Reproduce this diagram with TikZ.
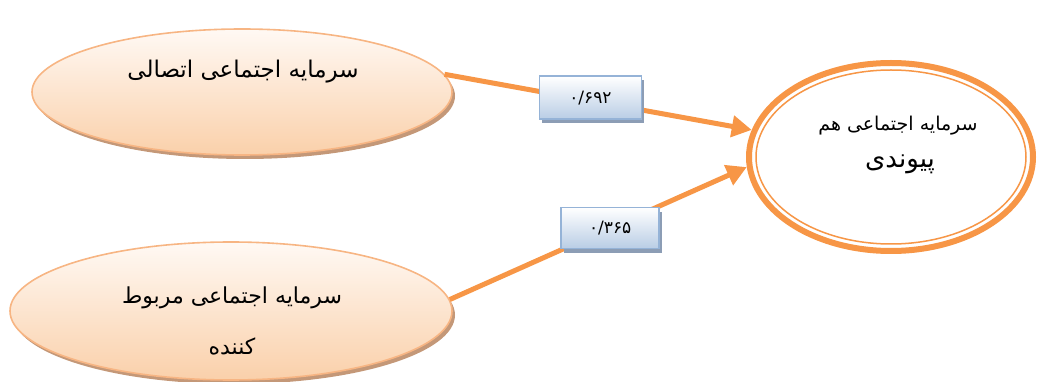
\documentclass[tikz,border=0pt]{standalone}
\usepackage{fontspec}
\newfontfamily\farsi[Script=Arabic]{DejaVu Sans}
\TeXXeTstate=1
\usetikzlibrary{shapes.geometric, shadows, arrows.meta}

\definecolor{pathorange}{HTML}{F79646}
\definecolor{peachline}{HTML}{F7B583}
\definecolor{peachtop}{HTML}{FFF9F4}
\definecolor{peachbot}{HTML}{FAD0AA}
\definecolor{peachshade}{HTML}{C49878}
\definecolor{boxline}{HTML}{95B3D7}
\definecolor{boxbot}{HTML}{B9CDE5}
\definecolor{boxshade}{HTML}{8C9DB5}

\tikzset{
  srcell/.style={ellipse, draw=peachline, line width=1.6pt,
    top color=peachtop, bottom color=peachbot,
    drop shadow={shadow xshift=3pt, shadow yshift=-4pt, fill=peachshade, opacity=1}},
  tgtell/.style={ellipse, draw=pathorange, line width=6pt, fill=white},
  valbox/.style={rectangle, draw=boxline, line width=1.8pt,
    top color=white, bottom color=boxbot,
    minimum width=102pt, minimum height=43pt,
    drop shadow={shadow xshift=3pt, shadow yshift=-4pt, fill=boxshade, opacity=1},
    font=\farsi\fontsize{17}{19}\selectfont},
  link/.style={draw=pathorange, line width=5pt}
}

\begin{document}
\begin{tikzpicture}[x=1pt, y=-1pt, >={Triangle[length=20pt, width=21pt]}]
  \useasboundingbox (0,0) rectangle (1037,382);

  \node[srcell, minimum width=420pt, minimum height=126pt] (conn) at (242,92) {};
  \node[font=\farsi\fontsize{23}{27}\selectfont] (conntext) at (243,72)
    {\beginR سرمایه اجتماعی اتصالی\endR};

  \node[srcell, minimum width=442pt, minimum height=138pt] (bridge) at (231,311) {};
  \node[font=\farsi\fontsize{22}{51}\selectfont, align=center] (bridgetext) at (232,321)
    {\beginR سرمایه اجتماعی مربوط\endR\\ \beginR کننده\endR};

  \node[tgtell, minimum width=284pt, minimum height=188pt] (bond) at (891,157) {};
  \draw[pathorange, line width=1.5pt] (bond.center) ellipse [x radius=135, y radius=87];
  \node[font=\farsi\fontsize{19}{22}\selectfont] (bondtop) at (898,126)
    {\beginR سرمایه اجتماعی هم\endR};
  \node[font=\farsi\fontsize{26}{30}\selectfont] (bondbot) at (900,164)
    {\beginR پیوندی\endR};

  \draw[link, ->] (conn.5) -- node[valbox, pos=0.475, yshift=3pt] (wone) {۰/۶۹۲} (bond.169);
  \draw[link, ->] (bridge.3) -- node[valbox, pos=0.54, minimum width=98pt, minimum height=41pt] (wtwo) {۰/۳۶۵} (bond.184);
\end{tikzpicture}
\end{document}
